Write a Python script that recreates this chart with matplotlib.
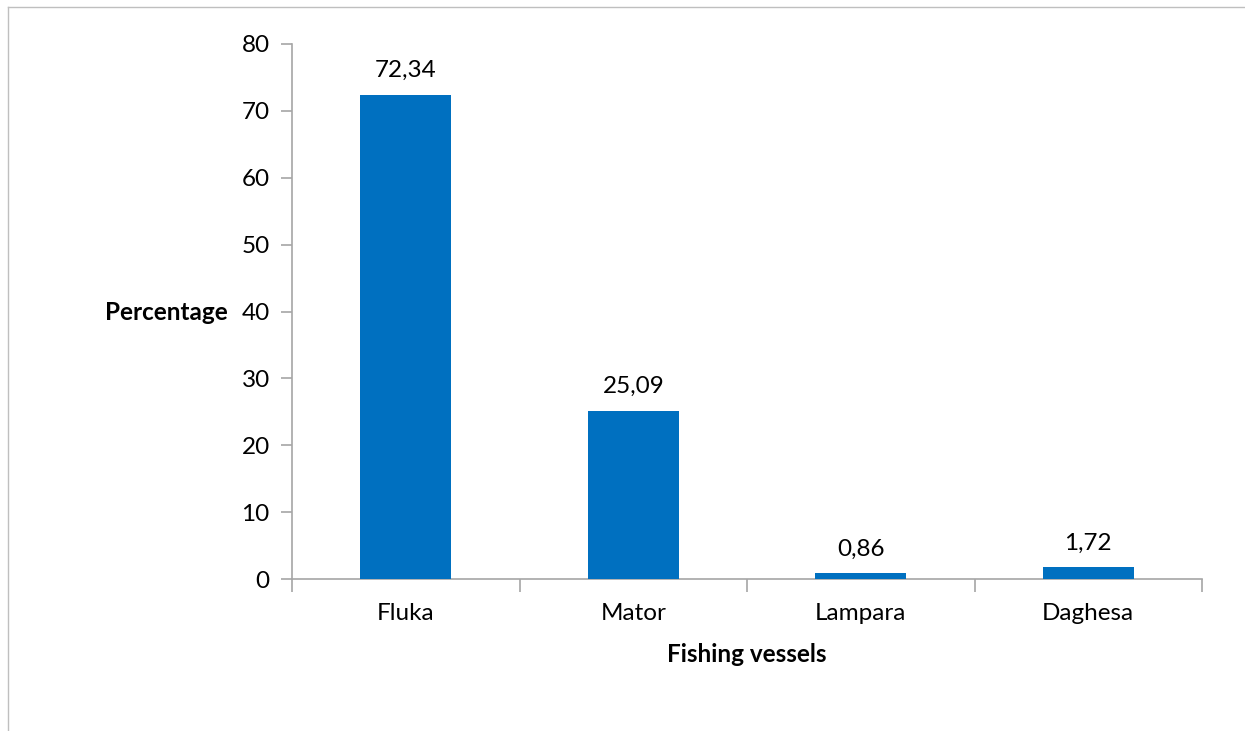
import matplotlib
matplotlib.use('Agg')
import matplotlib.pyplot as plt
from matplotlib.lines import Line2D

# data
vessels = ['Fluka', 'Mator', 'Lampara', 'Daghesa']
percent = [72.34, 25.09, 0.86, 1.72]
yticks  = [0, 10, 20, 30, 40, 50, 60, 70, 80]

BLUE = '#0070C0'
GREY = '#A6A6A6'
W, H = 1245, 731
FS = 17.5

plt.rcParams['font.family'] = ['Lato', 'DejaVu Sans']

fig = plt.figure(figsize=(W / 100, H / 100), dpi=100)
ax = fig.add_axes([292 / W, 1 - 579 / H, (1202 - 292) / W, (579 - 44) / H])

xs = range(len(vessels))
ax.bar(xs, percent, width=0.4, color=BLUE, zorder=3)
for x, v in zip(xs, percent):
    ax.annotate(f'{v:.2f}'.replace('.', ','), (x, v), xytext=(0, 10),
                textcoords='offset points', ha='center', va='bottom', fontsize=FS)

ax.set_xlim(-0.5, len(vessels) - 0.5)
ax.set_ylim(0, 80)
ax.set_yticks(yticks)
ax.set_xticks(list(xs))
ax.set_xticklabels(vessels)
ax.set_xticks([i - 0.5 for i in range(len(vessels) + 1)], minor=True)
ax.tick_params(axis='x', which='major', length=0, pad=17, labelsize=FS)
ax.tick_params(axis='x', which='minor', length=9, color=GREY, width=1.2)
ax.tick_params(axis='y', length=8, color=GREY, width=1.2, pad=8, labelsize=FS)

for side in ('top', 'right'):
    ax.spines[side].set_visible(False)
for side in ('left', 'bottom'):
    ax.spines[side].set_color(GREY)
    ax.spines[side].set_linewidth(1.2)

ax.set_xlabel('Fishing vessels', fontsize=FS, fontweight='bold', labelpad=14)
fig.text(166 / W, 1 - 313 / H, 'Percentage', fontsize=FS, fontweight='bold',
         ha='center', va='center')

# outer chart frame (top and left edges visible)
fig.add_artist(Line2D([8 / W, 1], [1 - 7 / H, 1 - 7 / H], color='#BFBFBF', lw=1))
fig.add_artist(Line2D([8 / W, 8 / W], [0, 1 - 7 / H], color='#BFBFBF', lw=1))

fig.savefig('out.png', dpi=100, facecolor='white')
